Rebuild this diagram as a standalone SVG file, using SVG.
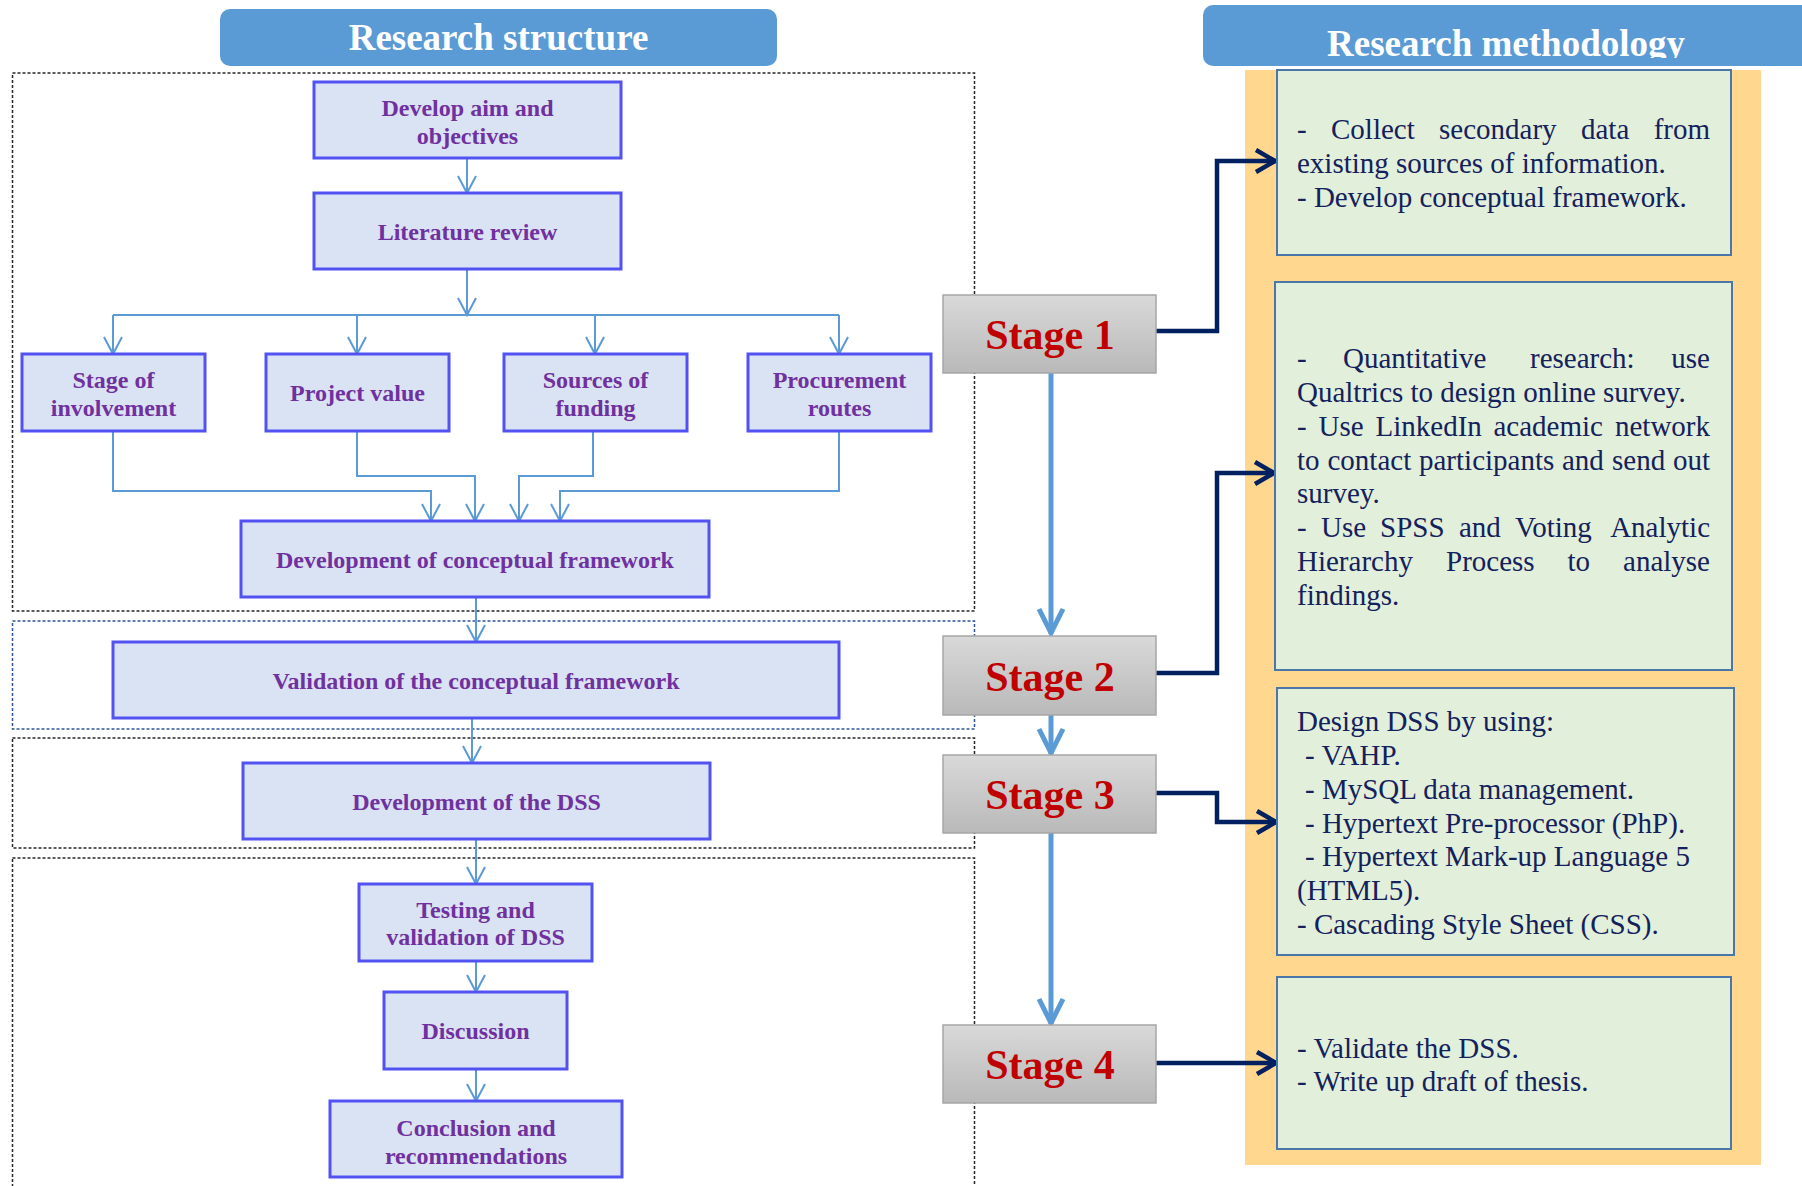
<svg xmlns="http://www.w3.org/2000/svg" width="1802" height="1186" viewBox="0 0 1802 1186">
  <style>
    .hdr { fill: #5B9BD5; }
    .hdrText { font-family: "Liberation Serif", "Times New Roman", serif; font-weight: bold; font-size: 37px; fill: #FFFFFF; text-anchor: middle; }
    .zone { fill: none; stroke: #262626; stroke-width: 1.5; stroke-dasharray: 3 2; }
    .zoneBlue { fill: none; stroke: #2F5597; stroke-width: 1.5; stroke-dasharray: 3 2; }
    .node rect { fill: #DAE3F3; stroke: #5252F2; stroke-width: 3; }
    .node text { font-family: "Liberation Serif", "Times New Roman", serif; font-weight: bold; font-size: 24px; fill: #7030A0; text-anchor: middle; }
    .stage rect { fill: url(#stageGrad); stroke: #A6A6A6; stroke-width: 1.5; }
    .stage text { font-family: "Liberation Serif", "Times New Roman", serif; font-weight: bold; font-size: 42px; fill: #C00000; text-anchor: middle; }
    .method rect { fill: #E2EFDA; stroke: #4A76A8; stroke-width: 2; }
    .method text { font-family: "Liberation Serif", "Times New Roman", serif; font-size: 29px; fill: #13215C; }
    .method text .e { text-anchor: end; }
    .thin { fill: none; stroke: #5B9BD5; stroke-width: 2; }
    .thick { fill: none; stroke: #5B9BD5; stroke-width: 5; }
    .navy { fill: none; stroke: #002060; stroke-width: 4.5; }
  </style>
  <defs>
    <linearGradient id="stageGrad" x1="0" y1="0" x2="0" y2="1">
      <stop offset="0" stop-color="#D9D9D9"/>
      <stop offset="1" stop-color="#B9B9B9"/>
    </linearGradient>
    <clipPath id="methHdrClip">
      <rect x="1203" y="0" width="599" height="58"/>
    </clipPath>
    <marker id="aThin" markerUnits="userSpaceOnUse" orient="auto" markerWidth="40" markerHeight="40" overflow="visible">
      <path d="M-17,-9 L0,0 L-17,9" fill="none" stroke="#5B9BD5" stroke-width="2"/>
    </marker>
    <marker id="aThick" markerUnits="userSpaceOnUse" orient="auto" markerWidth="60" markerHeight="60" overflow="visible">
      <path d="M-25,-12 L-1,0 L-25,12" fill="none" stroke="#5B9BD5" stroke-width="5"/>
    </marker>
    <marker id="aNavy" markerUnits="userSpaceOnUse" orient="auto" markerWidth="50" markerHeight="50" overflow="visible">
      <path d="M-20,-11 L-1,0 L-20,11" fill="none" stroke="#002060" stroke-width="4.5"/>
    </marker>
  </defs>

  <rect width="1802" height="1186" fill="#FFFFFF"/>

  <!-- column headers -->
  <g id="hdr-structure">
    <rect class="hdr" x="220" y="9" width="557" height="57" rx="10"/>
    <text class="hdrText" x="498.5" y="50">Research structure</text>
  </g>

  <!-- methodology column background -->
  <rect x="1245" y="70" width="516" height="1095" fill="#FFD78E"/>

  <g id="hdr-methodology">
    <rect class="hdr" x="1203" y="5" width="610" height="61" rx="10"/>
    <text class="hdrText" x="1506" y="56" clip-path="url(#methHdrClip)">Research methodology</text>
  </g>

  <!-- dashed zones for each stage -->
  <g id="zones">
    <rect class="zone" x="12.5" y="73" width="962" height="538"/>
    <rect class="zoneBlue" x="12.5" y="621" width="962" height="108"/>
    <rect class="zone" x="12.5" y="738" width="962" height="110"/>
    <rect class="zone" x="12.5" y="858" width="962" height="360"/>
  </g>

  <!-- connectors -->
  <g id="connectors">
    <path class="thin" d="M467,159 V193" marker-end="url(#aThin)"/>
    <path class="thin" d="M467,269 V315" marker-end="url(#aThin)"/>
    <path class="thin" d="M113,315 H839"/>
    <path class="thin" d="M113,315 V354" marker-end="url(#aThin)"/>
    <path class="thin" d="M357,315 V354" marker-end="url(#aThin)"/>
    <path class="thin" d="M595,315 V354" marker-end="url(#aThin)"/>
    <path class="thin" d="M839,315 V354" marker-end="url(#aThin)"/>
    <path class="thin" d="M113,431 V491 H431 V521" marker-end="url(#aThin)"/>
    <path class="thin" d="M357,431 V476 H475 V521" marker-end="url(#aThin)"/>
    <path class="thin" d="M593,431 V476 H519 V521" marker-end="url(#aThin)"/>
    <path class="thin" d="M839,431 V491 H560 V521" marker-end="url(#aThin)"/>
    <path class="thin" d="M476,597 V642" marker-end="url(#aThin)"/>
    <path class="thin" d="M472,718 V763" marker-end="url(#aThin)"/>
    <path class="thin" d="M476,839 V884" marker-end="url(#aThin)"/>
    <path class="thin" d="M476,961 V992" marker-end="url(#aThin)"/>
    <path class="thin" d="M476,1069 V1101" marker-end="url(#aThin)"/>

    <path class="thick" d="M1051,373 V634" marker-end="url(#aThick)"/>
    <path class="thick" d="M1051,715 V754" marker-end="url(#aThick)"/>
    <path class="thick" d="M1051,833 V1024" marker-end="url(#aThick)"/>

    <path class="navy" d="M1156,331 H1217 V161 H1276" marker-end="url(#aNavy)"/>
    <path class="navy" d="M1156,673 H1217 V473 H1275" marker-end="url(#aNavy)"/>
    <path class="navy" d="M1156,793 H1217 V822 H1277" marker-end="url(#aNavy)"/>
    <path class="navy" d="M1156,1063 H1277" marker-end="url(#aNavy)"/>
  </g>

  <!-- research structure nodes -->
  <g id="n-aim" class="node">
    <rect x="314" y="82" width="307" height="76"/>
    <text x="467.5" y="116">Develop aim and</text>
    <text x="467.5" y="144">objectives</text>
  </g>
  <g id="n-literature" class="node">
    <rect x="314" y="193" width="307" height="76"/>
    <text x="467.5" y="240">Literature review</text>
  </g>
  <g id="n-involvement" class="node">
    <rect x="22" y="354" width="183" height="77"/>
    <text x="113.5" y="388">Stage of</text>
    <text x="113.5" y="416">involvement</text>
  </g>
  <g id="n-value" class="node">
    <rect x="266" y="354" width="183" height="77"/>
    <text x="357.5" y="401">Project value</text>
  </g>
  <g id="n-funding" class="node">
    <rect x="504" y="354" width="183" height="77"/>
    <text x="595.5" y="388">Sources of</text>
    <text x="595.5" y="416">funding</text>
  </g>
  <g id="n-procurement" class="node">
    <rect x="748" y="354" width="183" height="77"/>
    <text x="839.5" y="388">Procurement</text>
    <text x="839.5" y="416">routes</text>
  </g>
  <g id="n-framework" class="node">
    <rect x="241" y="521" width="468" height="76"/>
    <text x="475" y="568">Development of conceptual framework</text>
  </g>
  <g id="n-validation" class="node">
    <rect x="113" y="642" width="726" height="76"/>
    <text x="476" y="689">Validation of the conceptual framework</text>
  </g>
  <g id="n-dss" class="node">
    <rect x="243" y="763" width="467" height="76"/>
    <text x="476.5" y="810">Development of the DSS</text>
  </g>
  <g id="n-testing" class="node">
    <rect x="359" y="884" width="233" height="77"/>
    <text x="475.5" y="918">Testing and</text>
    <text x="475.5" y="945">validation of DSS</text>
  </g>
  <g id="n-discussion" class="node">
    <rect x="384" y="992" width="183" height="77"/>
    <text x="475.5" y="1039">Discussion</text>
  </g>
  <g id="n-conclusion" class="node">
    <rect x="330" y="1101" width="292" height="76"/>
    <text x="476" y="1136">Conclusion and</text>
    <text x="476" y="1164">recommendations</text>
  </g>

  <!-- stages -->
  <g id="stage1" class="stage">
    <rect x="943" y="295" width="213" height="78"/>
    <text x="1050" y="349">Stage 1</text>
  </g>
  <g id="stage2" class="stage">
    <rect x="943" y="636" width="213" height="79"/>
    <text x="1050" y="691">Stage 2</text>
  </g>
  <g id="stage3" class="stage">
    <rect x="943" y="755" width="213" height="78"/>
    <text x="1050" y="809">Stage 3</text>
  </g>
  <g id="stage4" class="stage">
    <rect x="943" y="1025" width="213" height="78"/>
    <text x="1050" y="1079">Stage 4</text>
  </g>

  <!-- methodology boxes -->
  <g id="m-stage1" class="method">
    <rect x="1277" y="70" width="454" height="185"/>
    <text y="139"><tspan x="1297">-</tspan><tspan x="1331">Collect</tspan><tspan x="1439">secondary</tspan><tspan x="1581">data</tspan><tspan class="e" x="1710">from</tspan></text>
    <text x="1297" y="173">existing sources of information.</text>
    <text x="1297" y="207">- Develop conceptual framework.</text>
  </g>
  <g id="m-stage2" class="method">
    <rect x="1275" y="282" width="457" height="388"/>
    <text y="368"><tspan x="1297">-</tspan><tspan x="1343">Quantitative</tspan><tspan x="1530">research:</tspan><tspan class="e" x="1710">use</tspan></text>
    <text x="1297" y="402">Qualtrics to design online survey.</text>
    <text y="436"><tspan x="1297">-</tspan><tspan x="1318.5">Use</tspan><tspan x="1375.5">LinkedIn</tspan><tspan x="1493.5">academic</tspan><tspan class="e" x="1710">network</tspan></text>
    <text y="470"><tspan x="1297">to</tspan><tspan x="1327.5">contact</tspan><tspan x="1419">participants</tspan><tspan x="1562">and</tspan><tspan x="1612">send</tspan><tspan class="e" x="1710">out</tspan></text>
    <text x="1297" y="503">survey.</text>
    <text y="537"><tspan x="1297">-</tspan><tspan x="1321">Use</tspan><tspan x="1380">SPSS</tspan><tspan x="1459">and</tspan><tspan x="1515">Voting</tspan><tspan class="e" x="1710">Analytic</tspan></text>
    <text y="571"><tspan x="1297">Hierarchy</tspan><tspan x="1446">Process</tspan><tspan x="1567.5">to</tspan><tspan class="e" x="1710">analyse</tspan></text>
    <text x="1297" y="605">findings.</text>
  </g>
  <g id="m-stage3" class="method">
    <rect x="1277" y="688" width="457" height="267"/>
    <text x="1297" y="731">Design DSS by using:</text>
    <text x="1305" y="765">- VAHP.</text>
    <text x="1305" y="799">- MySQL data management.</text>
    <text x="1305" y="833">- Hypertext Pre-processor (PhP).</text>
    <text x="1305" y="866">- Hypertext Mark-up Language 5</text>
    <text x="1297" y="900">(HTML5).</text>
    <text x="1297" y="934">- Cascading Style Sheet (CSS).</text>
  </g>
  <g id="m-stage4" class="method">
    <rect x="1277" y="977" width="454" height="172"/>
    <text x="1297" y="1058">- Validate the DSS.</text>
    <text x="1297" y="1091">- Write up draft of thesis.</text>
  </g>
</svg>
